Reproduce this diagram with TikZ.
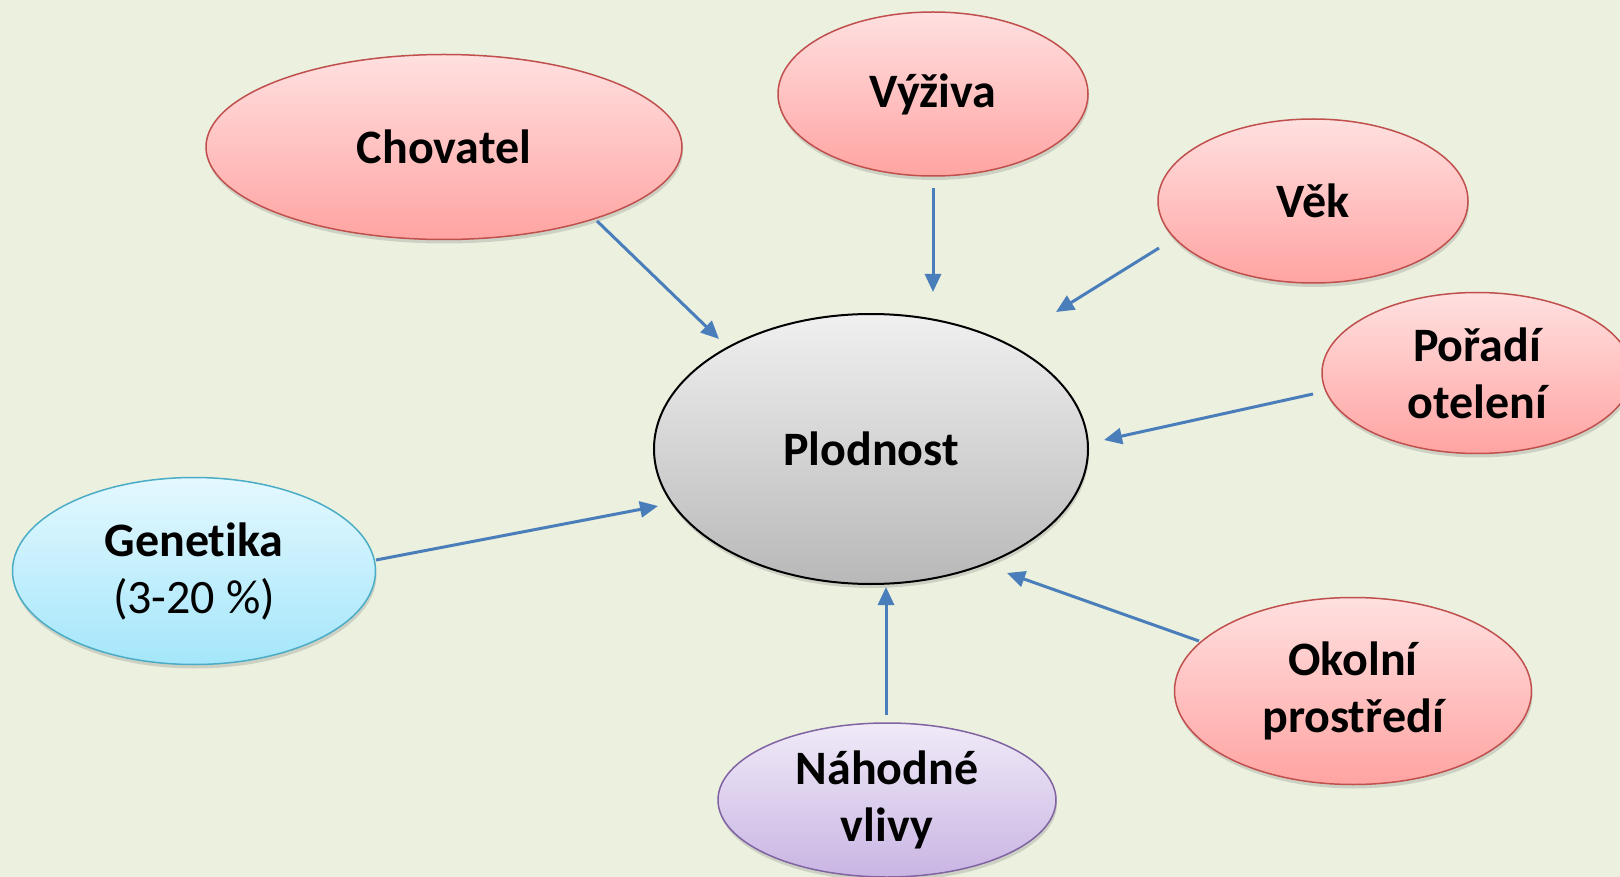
\documentclass[tikz,border=0pt]{standalone}
\usepackage{fontspec}
\setmainfont{Carlito}[Ligatures=NoCommon]
\usetikzlibrary{shapes.geometric,arrows.meta,shadows}
\definecolor{bg}{HTML}{EBF0DF}
\definecolor{redtop}{HTML}{FFE0E0}
\definecolor{redbot}{HTML}{FFA4A2}
\definecolor{redline}{HTML}{C0504D}
\definecolor{greytop}{HTML}{F0F0F0}
\definecolor{greybot}{HTML}{B8B8B8}
\definecolor{bluetop}{HTML}{E4F8FF}
\definecolor{bluebot}{HTML}{A4E6FA}
\definecolor{blueline}{HTML}{4BACC6}
\definecolor{purtop}{HTML}{F0EAF8}
\definecolor{purbot}{HTML}{C9B5E3}
\definecolor{purline}{HTML}{8064A2}
\definecolor{arrowc}{HTML}{4A7EBB}
\tikzset{
  oval/.style={ellipse, inner sep=0pt, align=center, line width=1.5pt,
    font=\fontsize{48}{57}\selectfont\bfseries,
    drop shadow={shadow xshift=1pt, shadow yshift=-4pt, opacity=0.22, fill=black!60}},
  redoval/.style={oval, draw=redline, top color=redtop, bottom color=redbot},
  greyoval/.style={oval, draw=black, line width=2pt, top color=greytop, bottom color=greybot},
  blueoval/.style={oval, draw=blueline, top color=bluetop, bottom color=bluebot},
  puroval/.style={oval, draw=purline, top color=purtop, bottom color=purbot},
  conn/.style={draw=arrowc, line width=3pt, -{Triangle[length=18pt,width=16pt]}}
}
\begin{document}
\begin{tikzpicture}[x=1pt,y=-1pt]
\fill[bg] (0,0) rectangle (1620,877);
\useasboundingbox (0,0) rectangle (1620,877);

\node[greyoval, minimum width=434pt, minimum height=270pt] (plod) at (871,449) {Plodnost};
\node[redoval, minimum width=476pt, minimum height=185pt] (chov) at (444,147) {Chovatel};
\node[redoval, minimum width=310pt, minimum height=164pt] (vyz) at (933,94) {Výživa};
\node[redoval, minimum width=310pt, minimum height=164pt] (vek) at (1313,201) {Věk};
\node[redoval, minimum width=310pt, minimum height=161pt] (por) at (1477,373) {Pořadí\\otelení};
\node[blueoval, minimum width=363pt, minimum height=187pt] (gen) at (194,571) {Genetika\\{\mdseries (3-20 \%)}};
\node[redoval, minimum width=357pt, minimum height=187pt] (oko) at (1353,691) {Okolní\\prostředí};
\node[puroval, minimum width=338pt, minimum height=154pt] (nah) at (887,800) {Náhodné\\vlivy};

\coordinate (s1) at (597,221);  \coordinate (e1) at (719,339);
\coordinate (s2) at (933,188);  \coordinate (e2) at (933,292);
\coordinate (s3) at (1159,248); \coordinate (e3) at (1056,312);
\coordinate (s4) at (1313,394); \coordinate (e4) at (1104,440);
\coordinate (s5) at (376,560);  \coordinate (e5) at (658,506);
\coordinate (s6) at (1199,641); \coordinate (e6) at (1007,573);
\coordinate (s7) at (886,715);  \coordinate (e7) at (886,587);

\draw[conn] (s1) -- (e1);
\draw[conn] (s2) -- (e2);
\draw[conn] (s3) -- (e3);
\draw[conn] (s4) -- (e4);
\draw[conn] (s5) -- (e5);
\draw[conn] (s6) -- (e6);
\draw[conn] (s7) -- (e7);
\end{tikzpicture}
\end{document}
